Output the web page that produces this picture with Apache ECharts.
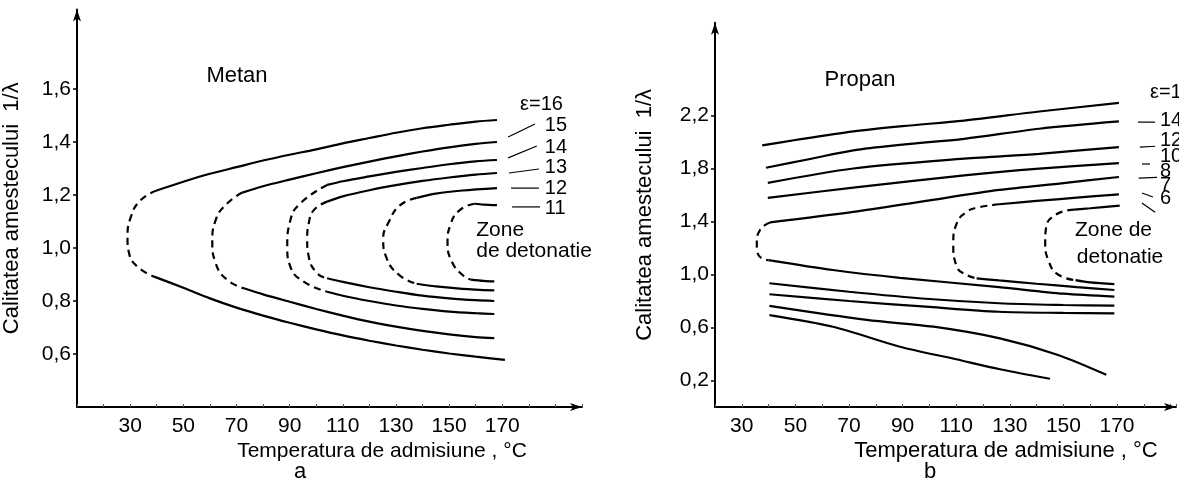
<!DOCTYPE html>
<html lang="ro">
<head>
<meta charset="UTF-8">
<title>Metan / Propan - zone de detonatie</title>
<script src="https://cdn.jsdelivr.net/npm/echarts@6/dist/echarts.min.js"></script>
<style>
    html, body { margin: 0; padding: 0; background: #fff; }
    #chart { width: 1179px; height: 480px; }
</style>
</head>
<body>
<div id="chart"></div>
<script>
// ---- Metan (a): raport de compresie, ramura superioara, nas (intrerupt), ramura inferioara
const metanEps = ['ε=16', '15', '14', '13', '12', '11'];
const metanUpper = [
    [[40,1.217],[50,1.25],[60,1.28],[70,1.305],[80,1.33],[90,1.352],[100,1.372],[110,1.395],[120,1.415],[130,1.435],[140,1.452],[150,1.465],[160,1.477],[168,1.483]],
    [[72.2,1.209],[80,1.233],[90,1.258],[100,1.282],[110,1.305],[120,1.326],[130,1.346],[140,1.364],[150,1.38],[160,1.393],[168,1.40]],
    [[104.1,1.238],[110,1.252],[120,1.27],[130,1.287],[140,1.302],[150,1.316],[160,1.327],[168,1.332]],
    [[104.1,1.175],[110,1.195],[120,1.218],[130,1.237],[140,1.253],[150,1.266],[160,1.277],[168,1.283]],
    [[137.8,1.189],[145,1.205],[155,1.217],[168,1.226]],
    [[159.5,1.167],[163,1.164],[168,1.162]]
];
const metanNose = [
    [[40,1.217],[34,1.181],[30.3,1.118],[29,1.037],[29.6,0.98],[32.8,0.929],[39,0.892]],
    [[72.2,1.209],[66.6,1.169],[62.2,1.106],[60.9,1.024],[62.2,0.942],[66.6,0.879],[72.8,0.848]],
    [[104.1,1.238],[94.1,1.169],[90.3,1.106],[89.1,1.005],[90.3,0.929],[95.3,0.873],[104.1,0.835]],
    [[104.1,1.175],[99.1,1.143],[97.2,1.093],[96.6,1.034],[97.2,0.967],[100.3,0.905],[104.1,0.886]],
    [[137.8,1.189],[131.5,1.161],[127.3,1.098],[125.2,1.035],[126.6,0.959],[131.5,0.896],[137.8,0.865]],
    [[159.5,1.167],[153.9,1.142],[150.4,1.085],[149.4,1.022],[151.1,0.947],[155.3,0.896],[158.1,0.881]]
];
const metanLower = [
    [[39,0.892],[50,0.85],[60,0.81],[70,0.775],[80,0.745],[90,0.718],[100,0.693],[110,0.67],[120,0.65],[130,0.632],[140,0.616],[150,0.602],[160,0.59],[171,0.578]],
    [[72.8,0.848],[80,0.825],[90,0.797],[100,0.77],[110,0.745],[120,0.722],[130,0.703],[140,0.687],[150,0.674],[160,0.664],[167,0.66]],
    [[104.1,0.835],[110,0.82],[120,0.80],[130,0.783],[140,0.77],[150,0.76],[160,0.754],[167,0.751]],
    [[104.1,0.886],[110,0.872],[120,0.852],[130,0.835],[140,0.82],[150,0.81],[160,0.803],[167,0.80]],
    [[137.8,0.865],[145,0.855],[155,0.846],[167,0.84]],
    [[158.1,0.881],[163,0.876],[167,0.874]]
];
const metanEpsPos = [[176.7,1.54],[186,1.464],[186,1.381],[186,1.302],[186,1.226],[186,1.151]];
const metanLeaders = [
    [[172.2,1.419],[182.3,1.468]],
    [[172.2,1.340],[183.0,1.385]],
    [[172.5,1.283],[183.8,1.298]],
    [[173.3,1.226],[183.8,1.226]],
    [[173.7,1.155],[184.2,1.155]]
];
const metanZone = [['Zone', 160.2, 1.068], ['de detonatie', 160.2, 0.989]];

// ---- Propan (b)
const propanEps = ['ε=16', '14', '12', '10', '8', '7', '6'];
const propanUpper = [
    [[37.6,1.974],[50,2.015],[71.6,2.08],[90,2.12],[113,2.162],[141,2.23],[170.7,2.295]],
    [[39,1.806],[55,1.87],[71.6,1.937],[90,1.98],[113,2.024],[141,2.10],[170.7,2.155]],
    [[39.7,1.691],[71.6,1.80],[113,1.874],[141,1.911],[170.7,1.962]],
    [[39.7,1.578],[71.6,1.656],[113,1.748],[141,1.799],[170.7,1.841]],
    [[40.5,1.393],[71.6,1.472],[100,1.56],[126,1.638],[150,1.69],[170.7,1.736]],
    [[126,1.53],[140,1.555],[155,1.58],[170.7,1.605]],
    [[154,1.49],[160,1.50],[171,1.52]]
];
const propanNose = [
    null, null, null, null,
    [[40.5,1.393],[36.8,1.336],[35.6,1.235],[35.8,1.172],[37.4,1.122],[40,1.109]],
    [[126,1.53],[118,1.505],[114,1.474],[110.2,1.386],[108.9,1.235],[110.2,1.059],[114,0.996],[117.6,0.971]],
    [[154,1.49],[147,1.45],[143.5,1.35],[143.2,1.246],[144.5,1.10],[148,1.0],[154.5,0.958]]
];
const propanLower = [
    [[40.3,0.694],[64,0.606],[89,0.455],[110,0.36],[126.3,0.285],[145,0.213]],
    [[40.3,0.763],[76.6,0.657],[101.5,0.606],[126.3,0.518],[148,0.393],[166,0.243]],
    [[40.3,0.851],[70,0.80],[100,0.755],[126,0.719],[150,0.71],[169,0.707]],
    [[40.3,0.934],[70,0.87],[100,0.815],[126,0.783],[150,0.77],[169,0.765]],
    [[40,1.109],[64,1.034],[89,0.975],[126,0.905],[150,0.855],[169,0.833]],
    [[117.6,0.971],[126,0.955],[140,0.93],[155,0.905],[169,0.883]],
    [[154.5,0.958],[160,0.94],[169,0.928]]
];
const propanEpsPos = [[182.3,2.37],[186,2.166],[186,2.015],[186,1.887],[186,1.774],[186,1.675],[186,1.577]];
const propanLeaders = [
    [[177.8,2.15],[184.2,2.15]],
    [[178.5,1.962],[184.2,1.968]],
    [[179.3,1.834],[182.3,1.834]],
    [[178.1,1.728],[184.9,1.733]],
    [[179.3,1.615],[183.4,1.585]],
    [[179.3,1.54],[184.2,1.47]]
];
const propanZone = [['Zone de', 154.3, 1.336], ['detonatie', 155, 1.132]];

const xTickLabels = [30, 50, 70, 90, 110, 130, 150, 170];
const metanYLabels = [0.6, 0.8, 1.0, 1.2, 1.4, 1.6];
const propanYLabels = [0.2, 0.6, 1.0, 1.4, 1.8, 2.2];

const FONT = '"Liberation Sans", Arial, Helvetica, sans-serif';
const INK = '#000';

let chart = echarts.init(document.getElementById('chart'), null, {renderer: 'canvas'});

function comma(v) {
    return v.toFixed(1).replace('.', ',');
}

function lineSeries(data, gridIdx, dashed) {
    return {
        type: 'line',
        xAxisIndex: gridIdx,
        yAxisIndex: gridIdx,
        data: data,
        smooth: dashed ? 0.5 : 0.3,
        symbol: 'none',
        silent: true,
        clip: false,
        lineStyle: {color: INK, width: 2.2, type: dashed ? [7, 5] : 'solid'}
    };
}

function curveSeries(upper, nose, lower, gridIdx) {
    let out = [];
    upper.forEach(d => out.push(lineSeries(d, gridIdx, false)));
    nose.forEach(d => d && out.push(lineSeries(d, gridIdx, true)));
    lower.forEach(d => out.push(lineSeries(d, gridIdx, false)));
    return out;
}

function leaderSeries(leaders, gridIdx) {
    return leaders.map(d => ({
        type: 'line', xAxisIndex: gridIdx, yAxisIndex: gridIdx, data: d,
        symbol: 'none', silent: true, clip: false,
        lineStyle: {color: INK, width: 1.2}
    }));
}

// texte ancorate in coordonatele graficului (etichete epsilon, "Zone de detonatie")
function textSeries(items, gridIdx, size) {
    return {
        type: 'scatter', xAxisIndex: gridIdx, yAxisIndex: gridIdx,
        symbolSize: 0, silent: true, clip: false,
        itemStyle: {opacity: 1, color: INK},
        data: items.map(it => ({name: it[0], value: [it[1], it[2]]})),
        label: {
            show: true, position: 'right', distance: 0,
            formatter: p => p.name,
            color: INK, opacity: 1, fontFamily: FONT, fontSize: size, align: 'left', verticalAlign: 'middle'
        }
    };
}

function xAxisFor(gridIdx, min, max) {
    return {
        type: 'value', gridIndex: gridIdx, min: min, max: max, interval: 10,
        splitLine: {show: false},
        axisLine: {lineStyle: {color: INK, width: 2}, symbol: ['none', 'arrow'], symbolSize: [6, 12]},
        axisTick: {inside: true, length: 3, lineStyle: {color: '#555', width: 1}},
        axisLabel: {
            color: INK, fontFamily: FONT, fontSize: 21, margin: 9,
            customValues: xTickLabels,
            formatter: v => xTickLabels.indexOf(v) >= 0 ? String(v) : ''
        }
    };
}

function yAxisFor(gridIdx, min, max, labels, gap) {
    return {
        type: 'value', gridIndex: gridIdx, min: min, max: max, interval: 0.2,
        splitLine: {show: false},
        name: 'Calitatea amestecului  1/λ',
        nameLocation: 'middle', nameRotate: 90, nameGap: gap,
        nameTextStyle: {color: INK, fontFamily: FONT, fontSize: 22},
        axisLine: {lineStyle: {color: INK, width: 2}, symbol: ['none', 'arrow'], symbolSize: [6, 12]},
        axisTick: {length: 4, lineStyle: {color: INK, width: 1.5}, customValues: labels},
        axisLabel: {
            color: INK, fontFamily: FONT, fontSize: 21, margin: 6,
            customValues: labels,
            formatter: v => labels.some(l => Math.abs(l - v) < 1e-6) ? comma(v) : ''
        }
    };
}

let series = []
    .concat(curveSeries(metanUpper, metanNose, metanLower, 0))
    .concat(leaderSeries(metanLeaders, 0))
    .concat([textSeries(metanEps.map((t, i) => [t, metanEpsPos[i][0], metanEpsPos[i][1]]), 0, 20)])
    .concat([textSeries(metanZone, 0, 21)])
    .concat(curveSeries(propanUpper, propanNose, propanLower, 1))
    .concat(leaderSeries(propanLeaders, 1))
    .concat([textSeries(propanEps.map((t, i) => [t, propanEpsPos[i][0], propanEpsPos[i][1]]), 1, 20)])
    .concat([textSeries(propanZone, 1, 21)]);

function caption(text, x, y, size) {
    return {
        type: 'text', x: x, y: y, silent: true,
        style: {text: text, fill: INK, font: size + 'px ' + FONT, textAlign: 'center', textVerticalAlign: 'middle'}
    };
}

let option = {
    backgroundColor: '#fff',
    animation: false,
    grid: [
        {left: 76, right: 597, top: 9.5, bottom: 73},
        {left: 715, right: 3, top: 22.75, bottom: 73}
    ],
    xAxis: [xAxisFor(0, 10, 200), xAxisFor(1, 20, 192)],
    yAxis: [
        yAxisFor(0, 0.4, 1.9, metanYLabels, 54),
        yAxisFor(1, 0, 2.9, propanYLabels, 59)
    ],
    graphic: [
        caption('Metan', 237, 76, 22),
        caption('Propan', 860, 80, 22),
        caption('Temperatura de admisiune , °C', 382, 451, 21),
        caption('Temperatura de admisiune , °C', 1006, 451, 22),
        caption('a', 300, 472, 22),
        caption('b', 930, 472, 22)
    ],
    series: series
};

chart.setOption(option);
</script>
</body>
</html>
